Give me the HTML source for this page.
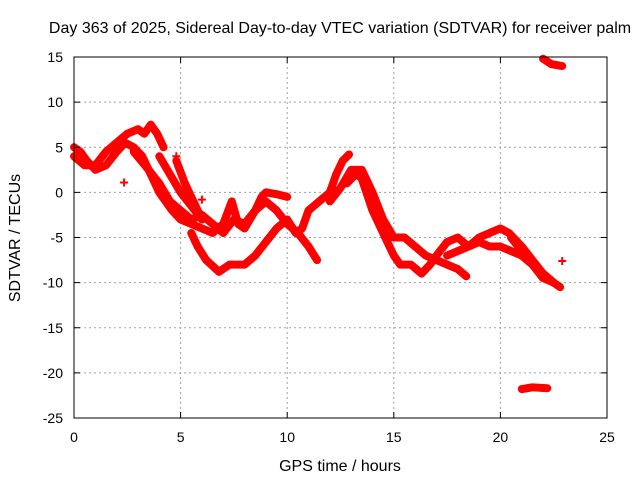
<!DOCTYPE html>
<html><head><meta charset="utf-8"><style>
body{margin:0;background:#fff}
svg{display:block;font-family:"Liberation Sans",Arial,sans-serif}
</style></head><body>
<svg id="chart" width="640" height="480" viewBox="0 0 640 480">
<rect width="640" height="480" fill="#fff"/>
<text x="340" y="33" font-size="16" text-anchor="middle">Day 363 of 2025, Sidereal Day-to-day VTEC variation (SDTVAR) for receiver palm</text>
<g id="grid"></g>
<g id="series"></g>
<rect x="74" y="57" width="533" height="361" fill="none" stroke="#000" stroke-width="1"/>
<g id="axes"></g>
<text x="340" y="471" font-size="16" text-anchor="middle">GPS time / hours</text>
<text transform="translate(20,238) rotate(-90)" font-size="16" text-anchor="middle">SDTVAR / TECUs</text>
</svg>
<script>
const xTicks=[0,5,10,15,20,25];
const yTicks=[15,10,5,0,-5,-10,-15,-20,-25];
const trackA=[[0,5],[0.3,4.5],[0.6,3.5],[1,2.5],[1.5,3],[2,4.5],[2.4,5.5],[2.8,5],[3.2,4],[3.6,2],[4,0],[4.3,-1],[4.6,-2],[5,-3],[5.5,-3.5],[6,-4],[6.5,-4.5],[7,-3.5],[7.4,-1],[7.7,-3.5],[8,-4],[8.5,-2],[8.8,-0.5],[9,0],[9.5,-0.2],[10,-0.5]];
const trackB=[[0,4],[0.5,3],[1,3],[1.5,4.5],[2,5.5],[2.5,6.5],[3,7],[3.3,6.5],[3.6,7.5],[3.9,6.5],[4.2,5]];
const trackC=[[2.8,4.5],[3.5,2.5],[4,1],[4.5,-1],[5,-2],[5.5,-3],[6,-2.5],[6.5,-3.5],[7,-4.5],[7.5,-3],[8,-3.5],[8.5,-2],[9,-1],[9.5,-2],[10,-3.5],[10.5,-4.5],[11,-6],[11.4,-7.5]];
const trackD=[[5.5,-4.5],[5.8,-6],[6.2,-7.5],[6.8,-8.8],[7.3,-8],[8,-8],[8.5,-7],[9,-5.5],[9.5,-4],[10,-3],[10.4,-4.5],[10.7,-4],[11,-2],[11.5,-1],[12,0],[12.3,2],[12.6,3.5],[12.9,4.2]];
const trackE=[[4,4],[4.5,2],[5,0],[5.5,-1.5],[6,-3]];
const trackE2=[[4.8,3.5],[5.2,1],[5.6,-1],[6,-3]];
const trackF=[[12,-1],[12.5,0.5],[13,2.5],[13.5,2.5],[14,0],[14.5,-3],[15,-5],[15.5,-5],[16,-6],[16.5,-7],[17,-7.5],[17.5,-8],[18,-8.5],[18.4,-9.3]];
const trackG=[[13.5,1.5],[14,-2],[14.5,-4.5],[15,-7],[15.3,-8],[15.8,-8],[16.3,-9],[16.7,-8],[17,-7],[17.5,-5.5],[18,-5],[18.5,-6],[19,-5],[19.5,-4.5],[20,-4],[20.4,-4.5],[21,-6],[21.5,-7.5],[22,-9],[22.5,-10]];
const trackH=[[17.5,-7],[18,-6.5],[18.5,-6],[19,-5.5],[19.5,-6],[20,-6],[20.5,-6.5],[21,-7],[21.5,-8],[22,-9.5],[22.5,-10]];
const trackI=[[20.5,-5],[21,-6.5],[21.5,-8],[22,-9],[22.5,-10],[22.8,-10.5]];
const trackJ=[[12.8,1],[13.2,2],[13.6,1.5],[14,-1],[14.4,-3.5],[14.8,-5]];
const trackTop=[[22,14.8],[22.4,14.2],[22.9,14]];
const trackBottom=[[21,-21.8],[21.5,-21.6],[22.2,-21.7]];
const singles=[[2.35,1.1],[4.8,4],[6,-0.8],[22.9,-7.6]];
const tracks=[trackA,trackB,trackC,trackD,trackE,trackE2,trackF,trackG,trackH,trackI,trackJ,trackTop,trackBottom];
const NS="http://www.w3.org/2000/svg";
const X=v=>74+v*(533/25), Y=v=>57+(15-v)*(361/40);
const grid=document.getElementById('grid'),axes=document.getElementById('axes'),ser=document.getElementById('series');
function mk(t,a,p){const e=document.createElementNS(NS,t);for(const k in a)e.setAttribute(k,a[k]);p.appendChild(e);return e;}
xTicks.forEach(t=>{const x=X(t);
 if(t>0&&t<25){const g=mk('line',{x1:x,x2:x,y1:57,y2:418,stroke:'#a0a0a0','stroke-dasharray':'2,3'},grid);}
 mk('line',{x1:x,x2:x,y1:418,y2:412,stroke:'#000'},axes);mk('line',{x1:x,x2:x,y1:57,y2:63,stroke:'#000'},axes);
 const l=mk('text',{x:x,y:442,'font-size':14,'text-anchor':'middle'},axes);l.textContent=t;
 });
yTicks.forEach(t=>{const y=Y(t);
 if(t<15&&t>-25){const g=mk('line',{x1:74,x2:607,y1:y,y2:y,stroke:'#a0a0a0','stroke-dasharray':'2,3'},grid);}
 mk('line',{x1:74,x2:80,y1:y,y2:y,stroke:'#000'},axes);mk('line',{x1:607,x2:601,y1:y,y2:y,stroke:'#000'},axes);
 const l=mk('text',{x:63,y:y+5,'font-size':14,'text-anchor':'end'},axes);l.textContent=t;
 });
tracks.forEach(tr=>{const p=mk('polyline',{points:tr.map(d=>X(d[0])+','+Y(d[1])).join(' '),fill:'none',stroke:'#f00','stroke-width':8,'stroke-linejoin':'round','stroke-linecap':'round'},ser);
 });
singles.forEach(d=>{const x=X(d[0]),y=Y(d[1]);const p=mk('path',{d:`M${x-4},${y}H${x+4}M${x},${y-4}V${y+4}`,stroke:'#f00','stroke-width':2},ser);
 });
</script>
</body></html>
